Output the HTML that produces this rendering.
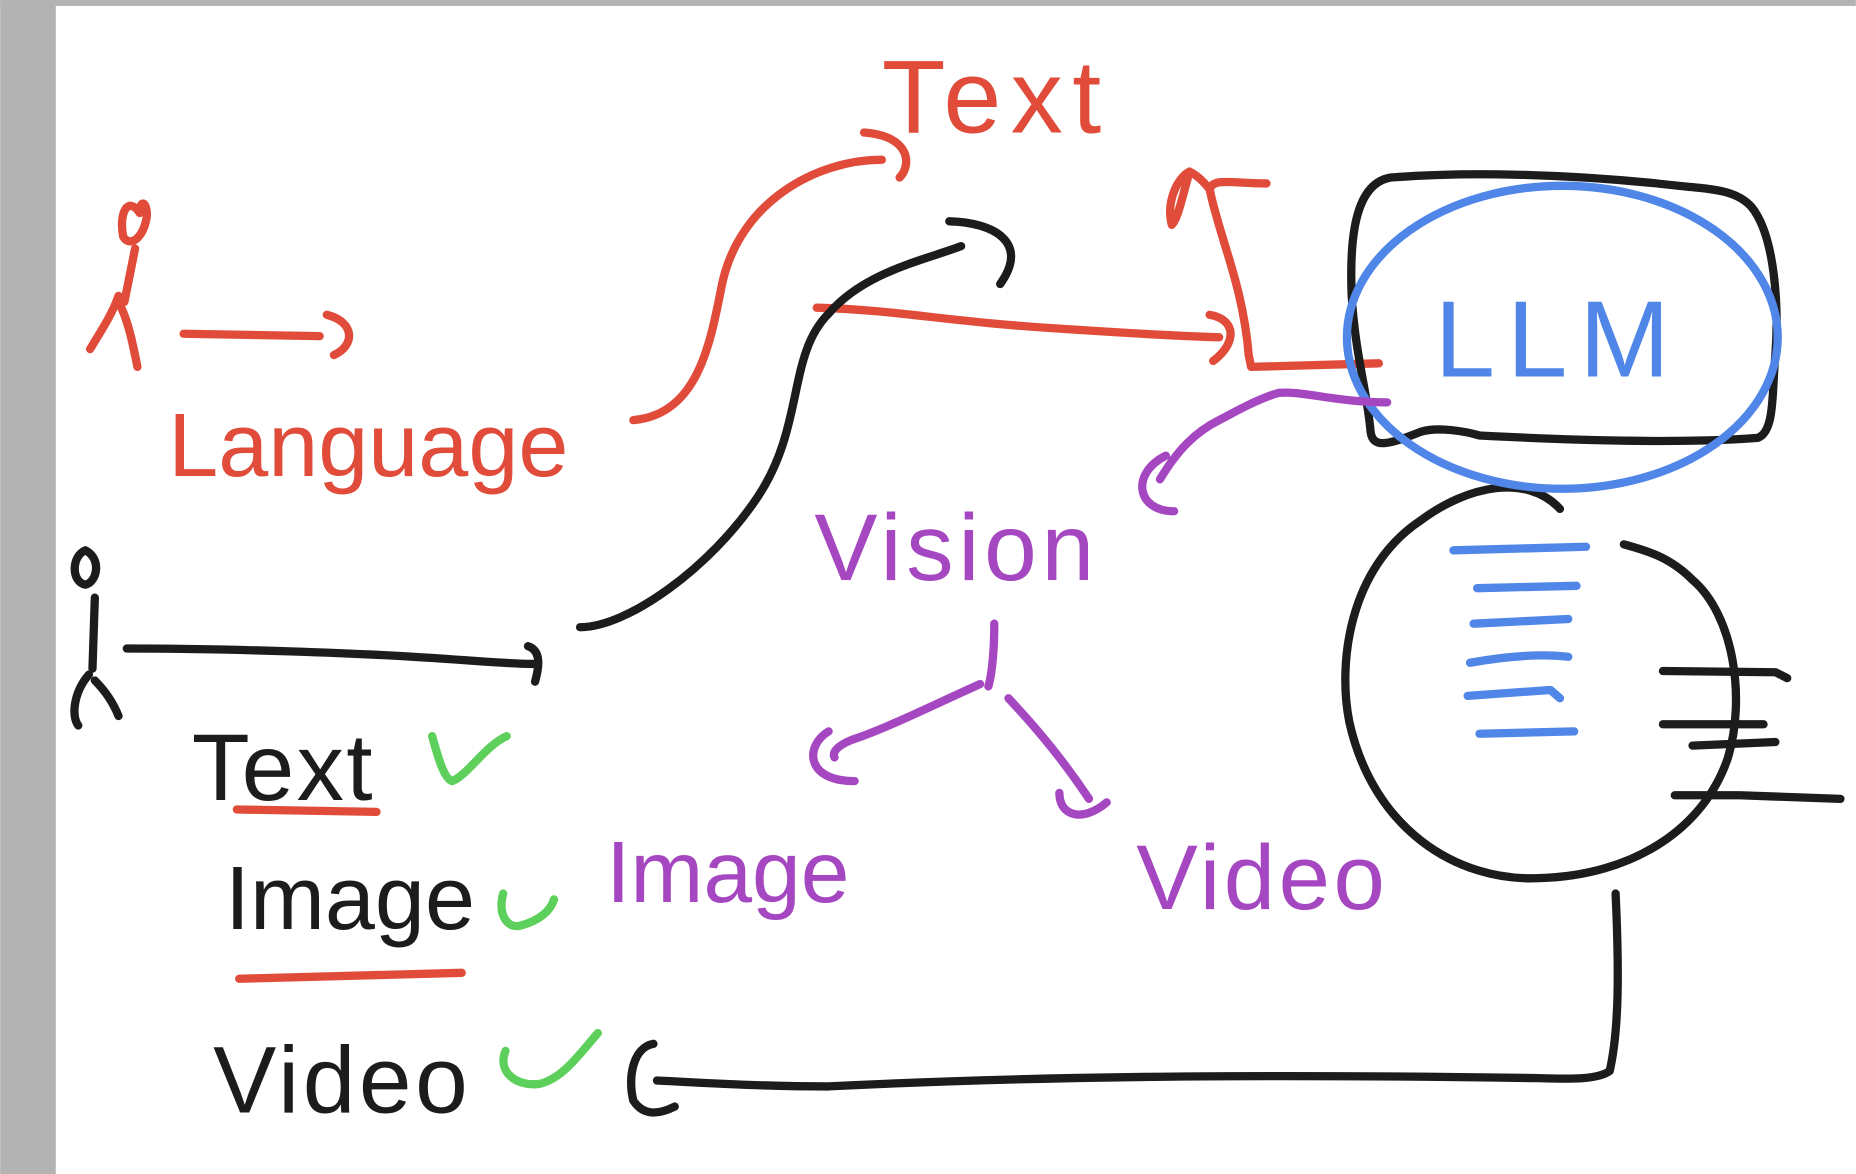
<!DOCTYPE html>
<html><head><meta charset="utf-8"><style>
html,body{margin:0;padding:0;background:#fff;}
svg{display:block}
text{font-family:"Liberation Sans","DejaVu Sans",sans-serif;}
</style></head><body>
<svg width="1856" height="1174" viewBox="0 0 1568 992" xmlns="http://www.w3.org/2000/svg">
<rect x="0" y="0" width="1568" height="992" fill="#fff"/>
<rect x="0" y="0" width="47" height="992" fill="#b3b3b3"/>
<rect x="0" y="0" width="1568" height="5" fill="#b3b3b3"/>
<g fill="none" stroke-linecap="round" stroke-linejoin="round" stroke-width="7">
<g stroke="#e04b3a">
<path d="M118 180 C108 165 100 180 104 200 C110 210 122 200 124 182 C124 170 118 168 118 180 M114 210 L105 255 M100 250 C95 265 85 280 76 295 M100 255 C108 270 112 290 116 310"/>
<path d="M155 282 L270 284 M276 266 C300 272 300 292 282 300"/>
<path d="M535 355 C590 350 600 290 610 240 C625 170 690 135 745 135 M730 112 C770 115 770 140 760 150"/>
<path d="M690 260 C760 262 800 272 900 278 C960 282 1000 284 1030 285 M1022 266 C1045 270 1045 290 1025 305"/>
<path d="M1070 155 C1040 155 1025 150 1022 160 C1030 200 1050 240 1055 300 L1057 310 L1165 307"/>
<path d="M990 190 C985 170 995 150 1005 145 C1015 150 1022 160 1022 160 M1005 145 C998 170 995 185 990 190"/>
<path d="M200 684 L318 686"/>
<path d="M202 827 L390 822"/>
</g>
<g stroke="#1c1c1c">
<path d="M72 465 C60 470 60 492 72 494 C82 492 86 472 72 465 M80 505 L78 565 M75 570 C62 585 60 605 66 613 M80 575 C90 585 96 595 100 605"/>
<path d="M107 548 C200 548 300 552 350 555 C400 558 430 561 450 561 M446 546 C458 550 455 565 452 576"/>
<path d="M490 530 C530 530 600 480 640 420 C680 360 665 300 700 265 C730 230 780 220 812 208 M802 187 C840 188 870 205 845 240"/>
<path d="M1175 150 C1145 155 1140 200 1142 250 C1145 300 1155 330 1158 365 C1160 380 1175 375 1200 365 C1215 360 1240 365 1250 368 C1330 372 1420 375 1485 370 C1500 365 1497 330 1500 300 C1503 260 1500 200 1480 175 C1465 158 1440 160 1400 155 C1320 147 1240 145 1175 150 Z"/>
<path d="M1318 430 C1290 400 1240 410 1200 440 C1140 480 1130 560 1140 610 C1160 700 1230 745 1300 742 C1380 740 1440 700 1460 640 C1475 590 1465 520 1430 490 C1410 470 1390 465 1372 460"/>
<path d="M1405 567 L1500 568 L1510 573 M1405 612 L1490 612 M1430 630 L1500 627 M1415 672 L1470 672 L1555 675"/>
<path d="M1365 755 C1368 820 1368 870 1360 905 C1350 912 1330 912 1300 911 C1100 908 900 908 700 918 C630 918 580 914 555 913 M552 882 C535 885 530 910 535 930 C545 945 560 940 570 935"/>
</g>
<g stroke="#4f86e8">
<ellipse cx="1320" cy="285" rx="182" ry="128"/>
<path d="M1228 465 L1340 462 M1248 497 L1332 495 M1245 527 L1325 523 M1242 560 C1270 555 1300 552 1325 555 M1240 588 L1310 583 L1318 590 M1250 620 L1330 618"/>
</g>
<g stroke="#a647c2">
<path d="M1172 340 C1130 340 1100 330 1080 332 C1060 338 1040 350 1030 355 C1010 365 995 380 980 405 M985 385 C955 400 960 432 992 432"/>
<path d="M840 527 C840 550 838 570 835 580 M828 578 C790 595 750 615 720 625 C700 633 705 640 705 640 M700 618 C680 630 680 660 722 660 M852 590 C880 620 900 645 920 675 M895 670 C895 690 915 695 935 678"/>
</g>
<g stroke="#5dcf5b">
<path d="M365 622 C370 640 375 658 382 660 C395 655 410 630 428 622"/>
<path d="M425 755 C420 775 430 785 440 782 C455 778 465 770 468 760"/>
<path d="M427 888 C420 905 435 918 455 916 C475 912 490 890 505 873"/>
</g>
</g>
<text x="142" y="402" font-size="76" fill="#e04b3a">Language</text>
<text x="745" y="112" font-size="88" fill="#e04b3a" letter-spacing="8">Text</text>
<text x="1212" y="318" font-size="92" fill="#4f86e8" letter-spacing="10">LLM</text>
<text x="688" y="490" font-size="80" fill="#a647c2" letter-spacing="4">Vision</text>
<text x="512" y="762" font-size="74" fill="#a647c2">Image</text>
<text x="960" y="768" font-size="78" fill="#a647c2" letter-spacing="3">Video</text>
<text x="162" y="676" font-size="80" fill="#1c1c1c" letter-spacing="2">Text</text>
<text x="190" y="785" font-size="76" fill="#1c1c1c">Image</text>
<text x="180" y="940" font-size="80" fill="#1c1c1c" letter-spacing="3">Video</text>
</svg>
</body></html>
